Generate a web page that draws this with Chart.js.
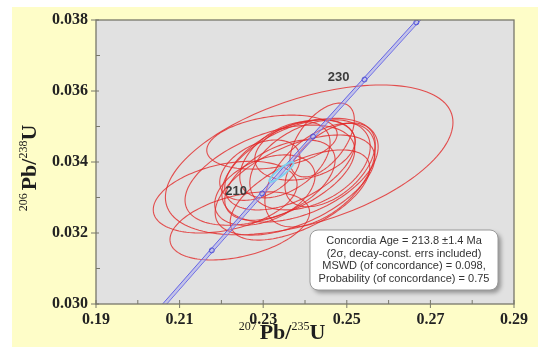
<!DOCTYPE html>
<html>
<head>
<meta charset="utf-8">
<script src="https://cdn.jsdelivr.net/npm/chart.js@4.4.1/dist/chart.umd.min.js"></script>
<style>
  html, body { margin: 0; padding: 0; background: #fff; }
  #wrap { width: 538px; height: 347px; }
</style>
</head>
<body>
<div id="wrap"><canvas id="concordia" width="538" height="347"></canvas></div>
<script>
// ---------------------------------------------------------- DATA ----------------------------------------------------------

// axis ticks
const xTicks = [0.19, 0.21, 0.23, 0.25, 0.27, 0.29];
const yTicks = [0.030, 0.032, 0.034, 0.036, 0.038];
const xMinorTicks = [0.20, 0.22, 0.24, 0.26, 0.28];
const yMinorTicks = [0.031, 0.033, 0.035, 0.037];

// concordia curve (207Pb/235U, 206Pb/238U), 190 -> 241 Ma
const concordiaX = [0.20578, 0.21771, 0.22975, 0.24192, 0.25424, 0.26664, 0.26787];
const concordiaY = [0.029913, 0.031511, 0.033113, 0.034717, 0.036323, 0.037932, 0.038093];
// decay-constant error envelope either side of the curve
const bandLeftX  = [0.20528, 0.21721, 0.22925, 0.24142, 0.25374, 0.26614, 0.26737];
const bandRightX = [0.20628, 0.21821, 0.23025, 0.24242, 0.25474, 0.26714, 0.26837];

// age ticks on the curve
const markerAges = [200, 210, 220, 230, 240];
const markerX = [0.21771, 0.22975, 0.24192, 0.25424, 0.26664];
const markerY = [0.031511, 0.033113, 0.034717, 0.036323, 0.037932];
const labelledAges = [210, 230];

// analyses: centre, 2-sigma errors, error correlation
const ellX    = [0.2410, 0.2209, 0.2244, 0.2321, 0.2441, 0.2388, 0.2364, 0.2412, 0.2340,
                 0.2316, 0.2376, 0.2436, 0.2352, 0.2304, 0.2400, 0.2460, 0.2292, 0.2388];
const ellY    = [0.03406, 0.03301, 0.03220, 0.03456, 0.03462, 0.03377, 0.03392, 0.03392, 0.03349,
                 0.03363, 0.03335, 0.03363, 0.03406, 0.03321, 0.03434, 0.03392, 0.03377, 0.03307];
const ellErrX = [0.0344, 0.0172, 0.0167, 0.0156, 0.0077, 0.0187, 0.0156, 0.0144, 0.0132,
                 0.0203, 0.0191, 0.0132, 0.0108, 0.0120, 0.0120, 0.0108, 0.0096, 0.0167];
const ellErrY = [0.00211, 0.00101, 0.00096, 0.00076, 0.00104, 0.00146, 0.00127, 0.00127, 0.00113,
                 0.00141, 0.00141, 0.00146, 0.00107, 0.00099, 0.00085, 0.00118, 0.00085, 0.00127];
const ellRho  = [0.50, 0.35, 0.40, 0.30, 0.55, 0.45, 0.50, 0.40, 0.50,
                 0.50, 0.55, 0.50, 0.45, 0.40, 0.30, 0.50, 0.40, 0.60];

// concordia age ellipse
const ageEllipse = { x: 0.23437, y: 0.03372, errX: 0.0029, errY: 0.00028, rho: 0.9 };

const resultLines = [
    'Concordia Age = 213.8 \u00b11.4 Ma',
    '(2\u03c3, decay-const. errs included)',
    'MSWD (of concordance) = 0.098,',
    'Probability (of concordance) = 0.75'
];

// ---------------------------------------------------------- DRAWING ----------------------------------------------------------

const SERIF = '"Liberation Serif", "Times New Roman", serif';
const SANS = '"Liberation Sans", Arial, sans-serif';
const AXIS_COLOR = '#77776a';

function traceEllipse(ctx, xs, ys, cx, cy, ax, ay, rho) {
    const k = Math.sqrt(1 - rho * rho);
    ctx.beginPath();
    for (let i = 0; i <= 144; i++) {
        const t = i / 144 * Math.PI * 2;
        const px = xs.getPixelForValue(cx + ax * Math.cos(t));
        const py = ys.getPixelForValue(cy + ay * (rho * Math.cos(t) + k * Math.sin(t)));
        if (i === 0) ctx.moveTo(px, py); else ctx.lineTo(px, py);
    }
    ctx.closePath();
    ctx.stroke();
}

// text made of pieces (superscript masses + bold symbols), centred on x
function drawRich(ctx, parts, x, y) {
    let total = 0;
    parts.forEach(p => { ctx.font = p.font; p.w = ctx.measureText(p.t).width; total += p.w + (p.gap || 0); });
    let cur = x - total / 2;
    parts.forEach(p => {
        ctx.font = p.font;
        ctx.fillText(p.t, cur, y + (p.dy || 0));
        cur += p.w + (p.gap || 0);
    });
}

function titleParts(top, bottom) {
    const big = 'bold 22px ' + SERIF;
    const small = '12px ' + SERIF;
    return [
        { t: top, font: small, dy: -9, gap: 3 },
        { t: 'Pb/', font: big },
        { t: bottom, font: small, dy: -9 },
        { t: 'U', font: big }
    ];
}

const concordiaDecor = {
    id: 'concordiaDecor',
    beforeDraw(chart) {
        const { ctx, chartArea: a } = chart;
        ctx.save();
        ctx.fillStyle = '#ffffff';
        ctx.fillRect(0, 0, chart.width, chart.height);
        ctx.fillStyle = '#fefdc8';
        ctx.fillRect(12, 7, chart.width - 12, chart.height - 7);
        ctx.fillStyle = '#e1e1e1';
        ctx.fillRect(a.left, a.top, a.right - a.left, a.bottom - a.top);
        ctx.restore();
    },
    beforeDatasetsDraw(chart) {
        const { ctx, chartArea: a, scales: { x, y } } = chart;
        ctx.save();
        ctx.beginPath();
        ctx.rect(a.left, a.top, a.right - a.left, a.bottom - a.top);
        ctx.clip();
        ctx.strokeStyle = 'rgba(226, 40, 40, 0.8)';
        ctx.lineWidth = 1.1;
        for (let i = 0; i < ellX.length; i++) {
            traceEllipse(ctx, x, y, ellX[i], ellY[i], ellErrX[i], ellErrY[i], ellRho[i]);
        }
        ctx.restore();
    },
    afterDatasetsDraw(chart) {
        const { ctx, scales: { x, y } } = chart;
        ctx.save();
        ctx.strokeStyle = '#7fd0ee';
        ctx.lineWidth = 2;
        traceEllipse(ctx, x, y, ageEllipse.x, ageEllipse.y, ageEllipse.errX, ageEllipse.errY, ageEllipse.rho);

        // age labels to the left of their tick
        ctx.fillStyle = '#3c3c3c';
        ctx.font = 'bold 13px ' + SANS;
        ctx.textAlign = 'center';
        ctx.textBaseline = 'middle';
        labelledAges.forEach(age => {
            const i = markerAges.indexOf(age);
            ctx.fillText(String(age), x.getPixelForValue(markerX[i]) - 26, y.getPixelForValue(markerY[i]) - 2);
        });
        ctx.restore();
    },
    afterDraw(chart) {
        const { ctx, chartArea: a, scales: { x, y } } = chart;
        ctx.save();

        // frame
        ctx.strokeStyle = AXIS_COLOR;
        ctx.lineWidth = 1.3;
        ctx.strokeRect(a.left, a.top, a.right - a.left, a.bottom - a.top);

        // major ticks cross the axis, minor ticks sit inside
        ctx.lineWidth = 1;
        ctx.beginPath();
        xTicks.forEach(v => { const p = x.getPixelForValue(v); ctx.moveTo(p, a.bottom - 4); ctx.lineTo(p, a.bottom + 4); });
        xMinorTicks.forEach(v => { const p = x.getPixelForValue(v); ctx.moveTo(p, a.bottom - 4); ctx.lineTo(p, a.bottom); });
        yTicks.forEach(v => { const p = y.getPixelForValue(v); ctx.moveTo(a.left - 5, p); ctx.lineTo(a.left + 3, p); });
        yMinorTicks.forEach(v => { const p = y.getPixelForValue(v); ctx.moveTo(a.left, p); ctx.lineTo(a.left + 4, p); });
        ctx.stroke();

        // axis titles
        ctx.fillStyle = '#1e1e1e';
        ctx.textAlign = 'left';
        ctx.textBaseline = 'alphabetic';
        drawRich(ctx, titleParts('207', '235'), 282, 339);
        ctx.save();
        ctx.translate(36, 168);
        ctx.rotate(-Math.PI / 2);
        drawRich(ctx, titleParts('206', '238'), 0, 0);
        ctx.restore();

        // results box, bottom right of the plot
        const bw = 188, bh = 60;
        const bx = a.right - 16 - bw, by = a.bottom - 14 - bh;
        ctx.save();
        ctx.shadowColor = 'rgba(0, 0, 0, 0.35)';
        ctx.shadowOffsetX = 3;
        ctx.shadowOffsetY = 3;
        ctx.shadowBlur = 4;
        ctx.fillStyle = '#ffffff';
        ctx.beginPath();
        ctx.roundRect(bx, by, bw, bh, 8);
        ctx.fill();
        ctx.restore();
        ctx.strokeStyle = '#9a9a9a';
        ctx.lineWidth = 1;
        ctx.beginPath();
        ctx.roundRect(bx, by, bw, bh, 8);
        ctx.stroke();

        ctx.fillStyle = '#333333';
        ctx.font = '11px ' + SANS;
        ctx.textAlign = 'center';
        ctx.textBaseline = 'middle';
        resultLines.forEach((line, i) => ctx.fillText(line, bx + bw / 2, by + 11 + i * 12.7));
        ctx.restore();
    }
};

const points = (xs, ys) => xs.map((v, i) => ({ x: v, y: ys[i] }));

new Chart(document.getElementById('concordia'), {
    type: 'scatter',
    data: {
        datasets: [
            {
                data: points(markerX, markerY),
                pointStyle: 'circle',
                pointRadius: 2.5,
                pointBorderWidth: 1,
                pointBorderColor: '#5454d6',
                pointBackgroundColor: 'rgba(0,0,0,0)',
                showLine: false
            },
            {
                data: points(bandLeftX, concordiaY),
                showLine: true,
                borderColor: '#6464e4',
                borderWidth: 1,
                pointRadius: 0,
                fill: '+1',
                backgroundColor: 'rgba(160, 160, 240, 0.45)'
            },
            {
                data: points(bandRightX, concordiaY),
                showLine: true,
                borderColor: '#6464e4',
                borderWidth: 1,
                pointRadius: 0,
                fill: false
            }
        ]
    },
    options: {
        responsive: false,
        animation: false,
        devicePixelRatio: 1,
        layout: { padding: { left: 12, top: 20, right: 24, bottom: 0 } },
        plugins: {
            legend: { display: false },
            tooltip: { enabled: false }
        },
        scales: {
            x: {
                type: 'linear',
                min: 0.19,
                max: 0.29,
                afterFit: s => { s.height = 43; },
                afterBuildTicks: s => { s.ticks = xTicks.map(v => ({ value: v })); },
                grid: { display: true, drawOnChartArea: false, drawTicks: false },
                border: { display: false },
                ticks: {
                    padding: 6,
                    color: '#222',
                    font: { family: SERIF, size: 16, weight: 'bold' },
                    callback: v => v.toFixed(2)
                }
            },
            y: {
                type: 'linear',
                min: 0.030,
                max: 0.038,
                afterFit: s => { s.width = 84; },
                afterBuildTicks: s => { s.ticks = yTicks.map(v => ({ value: v })); },
                grid: { display: true, drawOnChartArea: false, drawTicks: false },
                border: { display: false },
                ticks: {
                    padding: 8,
                    color: '#222',
                    font: { family: SERIF, size: 16, weight: 'bold' },
                    callback: v => v.toFixed(3)
                }
            }
        }
    },
    plugins: [concordiaDecor]
});
</script>
</body>
</html>
